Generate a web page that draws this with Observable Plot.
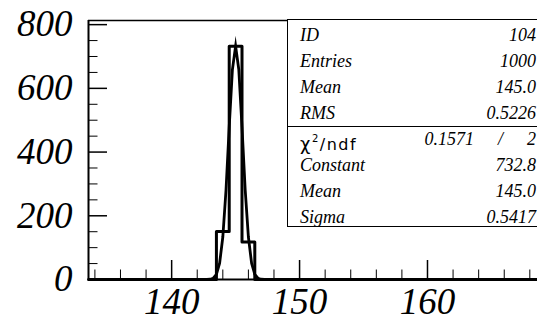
<!DOCTYPE html>
<html><head><meta charset="utf-8">
<script src="https://cdn.jsdelivr.net/npm/d3@7"></script>
<script src="https://cdn.jsdelivr.net/npm/@observablehq/plot@0.6"></script>
<style>
html,body{margin:0;padding:0;background:#fff;overflow:hidden}
#wrap{position:relative;width:537px;height:322px;overflow:hidden}
#stat{position:absolute;left:287px;top:19px;width:270px;height:208px;border:1.5px solid #000;border-right:none;box-sizing:border-box;background:#fff}
#divider{position:absolute;left:0;right:0;top:106px;border-top:1.5px solid #000}
.row{position:absolute;left:12px;width:236px;height:22px;line-height:22px;font-family:"Liberation Serif",serif;font-style:italic;font-size:18px;color:#000;white-space:nowrap}
.row .l{position:absolute;left:0}
.row .r{position:absolute;right:0}
.row .sans{font-family:"DejaVu Sans",sans-serif;font-style:normal;font-size:16px;letter-spacing:1.5px}
</style>
</head><body>
<div id="wrap"><div id="chart"></div><div id="stat"><div id="divider"></div></div></div>
<script>
// histogram (bins of width 1 starting at the range edge)
const histRange = [133.5, 168.6];
const binLefts = [143.5, 144.5, 145.5];
const binCounts = [151, 732, 118];
const binWidth = 1;
// Gaussian fit curve samples
const fitX = [142.5,142.75,143,143.25,143.5,143.75,144,144.25,144.5,144.75,145,145.25,145.5,145.75,146,146.25,146.5,146.75,147,147.25,147.5];
const fitY = [0.02,0.13,0.8,4.0,15.9,51.1,133.4,281.0,478.6,658.8,732.8,658.8,478.6,281.0,133.4,51.1,15.9,4.0,0.8,0.13,0.02];
// axes
const yDomain = [0, 813];
const yMajorTicks = [0, 200, 400, 600, 800];
const yMinorTicks = [50,100,150,250,300,350,450,500,550,650,700,750];
const xMajorTicks = [140, 150, 160];
const xMinorTicks = [134,136,138,142,144,146,148,152,154,156,158,162,164,166,168];
// stat box
const statLabels = ["ID","Entries","Mean","RMS"];
const statValues = ["104","1000","145.0","0.5226"];
const chi2Value = "0.1571";
const ndfValue = "2";
const fitLabels = ["Constant","Mean","Sigma"];
const fitValues = ["732.8","145.0","0.5417"];

const outline = [{x: histRange[0], y: 0}];
binLefts.forEach((b, i) => outline.push({x: b, y: binCounts[i]}));
outline.push({x: binLefts[binLefts.length-1] + binWidth, y: 0});
outline.push({x: histRange[1], y: 0});
const fit = fitX.map((x, i) => ({x, y: fitY[i]}));

const font = {fontFamily: "Liberation Serif", fontSize: 37, fontStyle: "italic"};

const plot = Plot.plot({
  width: 537, height: 322,
  marginLeft: 88, marginRight: 0, marginTop: 20, marginBottom: 43,
  x: {domain: histRange},
  y: {domain: yDomain},
  style: {background: "#fff", color: "#000", fontFamily: "Liberation Serif"},
  marks: [
    Plot.axisY(yMinorTicks, {anchor: "left", tickSize: 9.5, dx: 9.5, fill: "none", label: null, strokeWidth: 1}),
    Plot.axisY(yMajorTicks, {anchor: "left", tickSize: 19, dx: 19, fill: "none", label: null, strokeWidth: 1.5}),
    Plot.axisY(yMajorTicks, {anchor: "left", tickSize: 0, tickPadding: 16, label: null, ...font}),
    Plot.axisX(xMinorTicks, {anchor: "bottom", tickSize: 9.5, dy: -9.5, fill: "none", label: null, strokeWidth: 1}),
    Plot.axisX(xMajorTicks, {anchor: "bottom", tickSize: 19, dy: -19, fill: "none", label: null, strokeWidth: 1.5}),
    Plot.axisX(xMajorTicks, {anchor: "bottom", tickSize: 0, tickPadding: 8, label: null, ...font}),
    Plot.ruleX([histRange[0]], {stroke: "#000", strokeWidth: 2}),
    Plot.ruleY([yDomain[0]], {stroke: "#000", strokeWidth: 2}),
    Plot.ruleY([yDomain[1]], {stroke: "#000", strokeWidth: 1.5}),
    Plot.line(outline, {x: "x", y: "y", curve: "step-after", stroke: "#000", strokeWidth: 3}),
    Plot.line(fit, {x: "x", y: "y", stroke: "#000", strokeWidth: 2.8, strokeLinejoin: "miter", strokeMiterlimit: 10})
  ]
});
plot.querySelectorAll("text, g").forEach(t => { t.style.fontStyle = "italic"; t.setAttribute("font-style", "italic"); });
document.getElementById("chart").appendChild(plot);

const stat = document.getElementById("stat");
function addRow(i, html) {
  const d = document.createElement("div");
  d.className = "row";
  d.style.top = (33.5 + i * 26 - 19 - 11) + "px";
  d.innerHTML = html;
  stat.appendChild(d);
}
statLabels.forEach((l, i) => addRow(i, `<span class="l">${l}</span><span class="r">${statValues[i]}</span>`));
addRow(4, `<span class="l sans"><span style="font-size:18px">χ</span><sup style="font-size:10px;vertical-align:8px">2</sup>/ndf</span><span class="r" style="right:62px">${chi2Value}</span><span class="r" style="right:33px">/</span><span class="r">${ndfValue}</span>`);
fitLabels.forEach((l, i) => addRow(5 + i, `<span class="l">${l}</span><span class="r">${fitValues[i]}</span>`));
</script>
</body></html>
